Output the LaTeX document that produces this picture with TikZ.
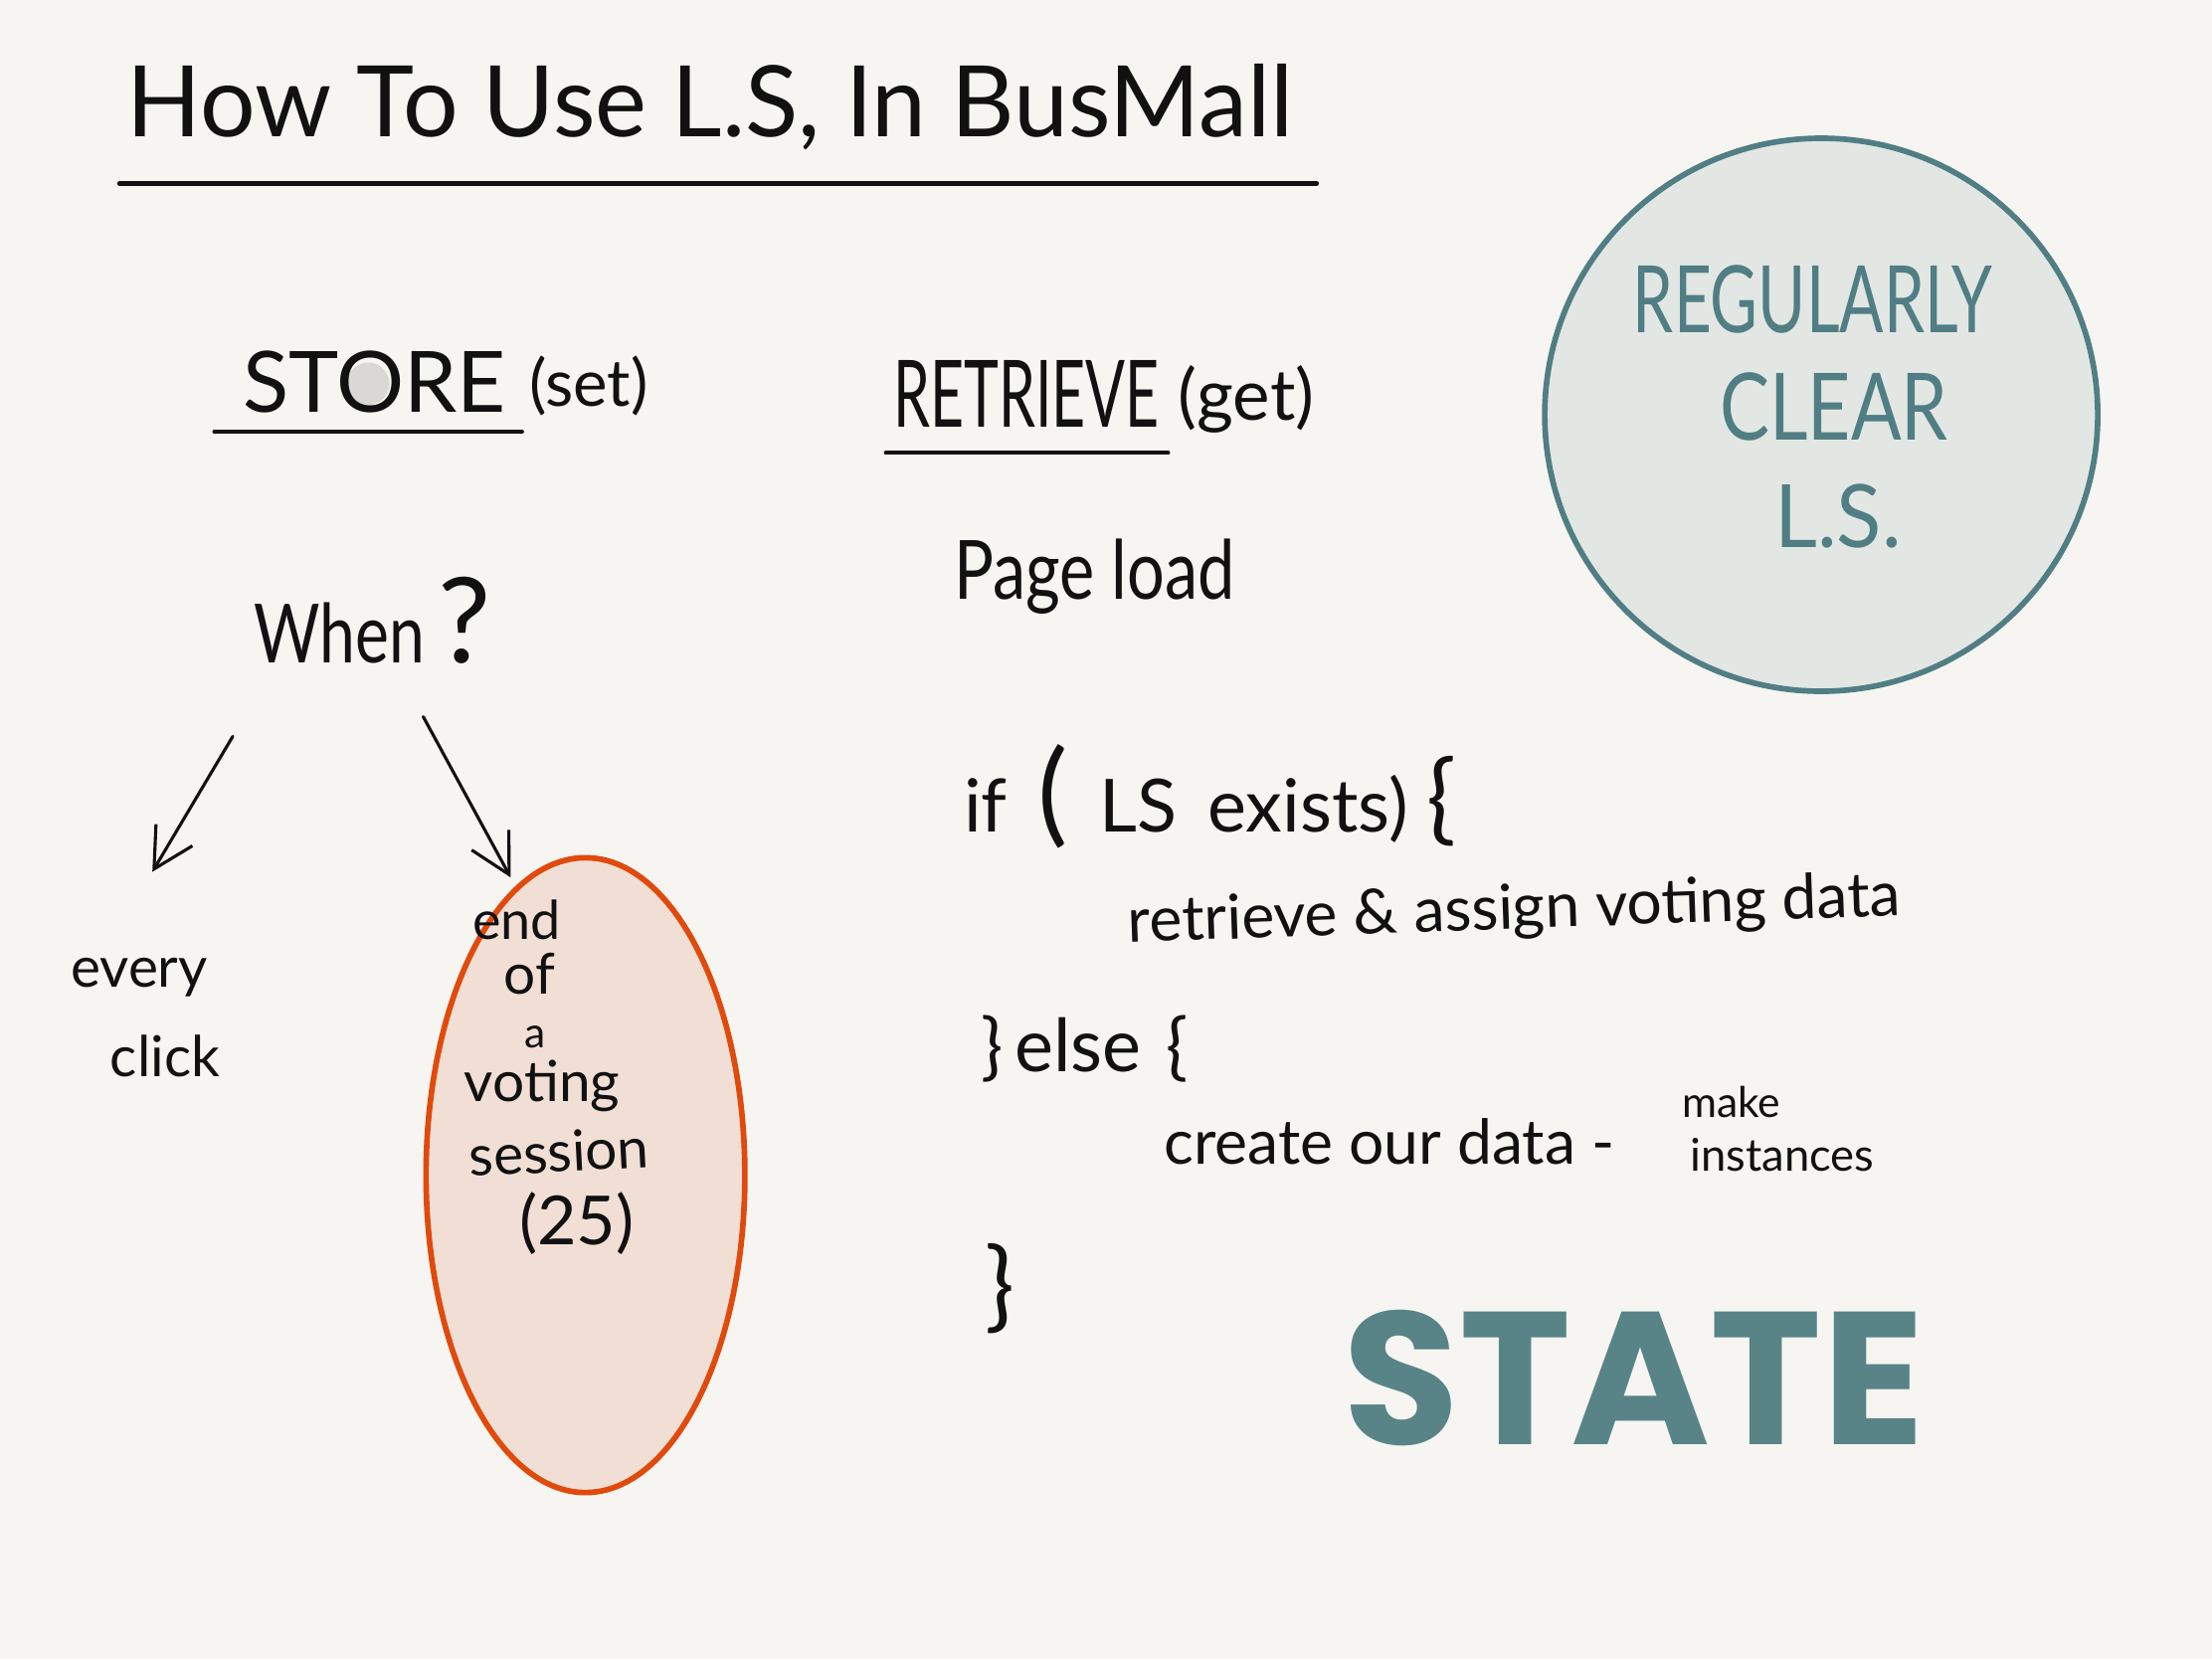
\documentclass[tikz,border=0pt]{standalone}
\usepackage{fontspec}
\setmainfont{Lato}
\newfontfamily\statefont{Poppins}
\usetikzlibrary{arrows.meta}
\definecolor{bg}{HTML}{F6F5F1}
\definecolor{ink}{HTML}{111111}
\definecolor{teal}{HTML}{517E84}
\definecolor{stateteal}{HTML}{588487}
\definecolor{circfill}{HTML}{E2E7E3}
\definecolor{ellfill}{HTML}{F1DFD5}
\definecolor{ellline}{HTML}{E04A0C}
\definecolor{ogrey}{HTML}{D9D8D4}
\newcommand\hfs[1]{\fontsize{#1}{#1}\selectfont}
\newcommand\nsc[2]{\scalebox{#1}[1]{#2}}
\begin{document}
\begin{tikzpicture}[x=1pt,y=-1pt,
  hand/.style={inner sep=0pt, anchor=base west, text=ink},
  rule/.style={line width=3.5pt, ink, line cap=round},
  arr/.style={line width=2.2pt, ink, line cap=round, -{Straight Barb[length=28pt,width=30pt,line width=2.2pt]}},
  tealtext/.style={inner sep=0pt, anchor=base, text=teal}]
\fill[bg] (0,0) rectangle (1568,1176);
\useasboundingbox (0,0) rectangle (1568,1176);

% title
\node[hand, font=\hfs{70}] (title) at (90,97) {\nsc{0.99}{How To Use L.S, In BusMall}};
\coordinate (tl) at (85,130);
\coordinate (tr) at (933,130);
\draw[rule, line width=4pt] (tl) -- (tr);

% store
\fill[ogrey] (261,272) circle (15);
\node[hand, font=\hfs{60}] (store) at (172,292) {STORE};
\node[hand, font=\hfs{46}] (set) at (375,288) {(set)};
\coordinate (sl) at (152,306);
\coordinate (sr) at (370,306);
\draw[rule, line width=3pt] (sl) -- (sr);

% retrieve
\node[hand, font=\hfs{66}] (retrieve) at (633,303) {\nsc{0.63}{RETRIEVE}};
\node[hand, font=\hfs{50}] (get) at (835,298) {(get)};
\coordinate (rl) at (628,321);
\coordinate (rr) at (828,321);
\draw[rule, line width=3pt] (rl) -- (rr);

% circle
\node[circle, minimum size=392pt, inner sep=0pt, draw=teal, line width=4pt, fill=circfill] (clear) at (1291,294) {};
\node[tealtext, font=\hfs{66}] (reg) at (1285,236) {\nsc{0.7}{REGULARLY}};
\node[tealtext, font=\hfs{66}] (clr) at (1300,312) {\nsc{0.8}{CLEAR}};
\node[tealtext, font=\hfs{62}] (ls) at (1303,388) {\nsc{0.95}{L.S.}};

% when
\node[hand, font=\hfs{58}] (when) at (180,470) {\nsc{0.78}{When}\,{\hfs{84}?}};
\coordinate (a1s) at (165,522);
\coordinate (a1e) at (108,618);
\coordinate (a2s) at (300,508);
\coordinate (a2e) at (362,622);
\draw[arr] (a1s) -- (a1e);
\draw[arr] (a2s) -- (a2e);

\node[hand, font=\hfs{40}] (every) at (50,700) {every};
\node[hand, font=\hfs{40}] (click) at (78,763) {click};

% ellipse
\draw[line width=4pt, draw=ellline, fill=ellfill] (415,833) ellipse [x radius=113, y radius=225];
\node[hand, font=\hfs{38}] (end) at (335,666) {end};
\node[hand, font=\hfs{40}] (of) at (357,705) {of};
\node[hand, font=\hfs{30}] (a) at (372,743) {a};
\node[hand, font=\hfs{40}] (voting) at (329,781) {voting};
\node[hand, font=\hfs{40}, rotate=3, anchor=base west] (session) at (333,834) {session};
\node[hand, font=\hfs{48}] (n25) at (368,882) {(25)};

% code side
\node[hand, font=\hfs{58}] (page) at (676,425) {\nsc{0.81}{Page load}};
\node[hand, font=\hfs{52}] (if) at (683,590) {if \,{\hfs{80}(}\, LS \,exists) {\hfs{70}\{}};
\node[hand, font=\hfs{44}, rotate=2] (retr) at (800,668) {retrieve \& assign voting data};
\node[hand, font=\hfs{52}] (else) at (695,760) {\}\,else\,\,\{};
\node[hand, font=\hfs{44}] (create) at (825,825) {create our data -};
\node[hand, font=\hfs{30}] (make) at (1192,792) {make};
\node[hand, font=\hfs{32}] (inst) at (1198,830) {instances};
\node[hand, font=\hfs{70}] (close) at (698,935) {\}};

% state
\node[inner sep=0pt, anchor=base west, text=stateteal, font=\statefont\bfseries\hfs{134}] (state) at (952,1024) {STATE};
\end{tikzpicture}
\end{document}
